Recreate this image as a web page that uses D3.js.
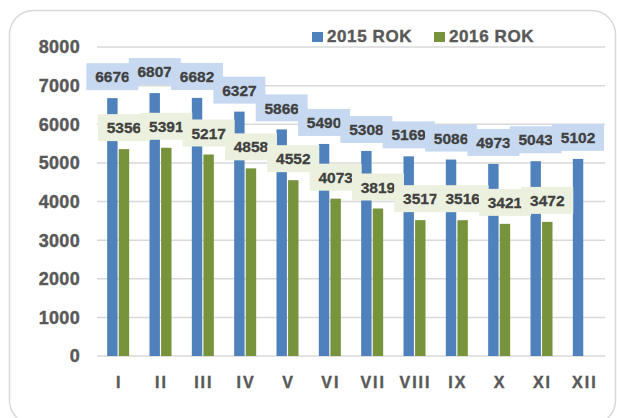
<!DOCTYPE html>
<html>
<head>
<meta charset="utf-8">
<script src="https://cdn.jsdelivr.net/npm/d3@7"></script>
<style>
  body { margin: 0; background: #fff; }
  text { font-family: "Liberation Sans", Arial, sans-serif; font-weight: bold; }
</style>
</head>
<body>
<script>
// data
let months = ["I", "II", "III", "IV", "V", "VI", "VII", "VIII", "IX", "X", "XI", "XII"];
let rok2015 = [6676, 6807, 6682, 6327, 5866, 5490, 5308, 5169, 5086, 4973, 5043, 5102];
let rok2016 = [5356, 5391, 5217, 4858, 4552, 4073, 3819, 3517, 3516, 3421, 3472, null];
let seriesNames = ["2015 ROK", "2016 ROK"];
let yTicks = [0, 1000, 2000, 3000, 4000, 5000, 6000, 7000, 8000];

let colors = ["#4f81bd", "#77933c"];
let boxColors = ["#c6d9f1", "#ebf1de"];

let svg = d3.select("body").append("svg")
  .attr("width", 617).attr("height", 418);

// outer rounded frame
svg.append("rect")
  .attr("x", 9.5).attr("y", 10.5)
  .attr("width", 606).attr("height", 414)
  .attr("rx", 24)
  .attr("fill", "none").attr("stroke", "#d9d9d9").attr("stroke-width", 1.5);

var y = d3.scaleLinear().domain([0, 8000]).range([356, 47]);
var x = d3.scaleBand().domain(months).range([97, 605]);
var xSub = d3.scaleBand().domain(seriesNames).range([-11, 11]).paddingInner(0.1);

// grid
svg.selectAll(".grid")
  .data(yTicks).enter().append("line")
  .attr("x1", 97).attr("x2", 605)
  .attr("y1", d => y(d)).attr("y2", d => y(d))
  .attr("stroke", "#d9d9d9").attr("stroke-width", 1.5);

// y labels
svg.selectAll(".ylab")
  .data(yTicks).enter().append("text")
  .attr("x", 80).attr("y", d => y(d))
  .attr("dy", "0.36em")
  .attr("text-anchor", "end")
  .attr("fill", "#595959")
  .attr("stroke", "#595959").attr("stroke-width", 0.4)
  .style("font-size", "18px")
  .style("letter-spacing", "0.3px")
  .text(d => d);

// x labels
svg.selectAll(".xlab")
  .data(months).enter().append("text")
  .attr("x", d => x(d) + x.bandwidth() / 2 + 1)
  .attr("y", 388)
  .attr("text-anchor", "middle")
  .attr("fill", "#595959")
  .attr("stroke", "#595959").attr("stroke-width", 0.4)
  .style("font-size", "16px")
  .style("letter-spacing", "2px")
  .text(d => d);

let series = [rok2015, rok2016];

// bars
series.forEach((vals, i) => {
  let pts = months.map((m, j) => ({ m: m, v: vals[j] })).filter(d => d.v != null);
  svg.selectAll(".bar" + i)
    .data(pts).enter().append("rect")
    .attr("x", d => x(d.m) + x.bandwidth() / 2 + xSub(seriesNames[i]))
    .attr("width", xSub.bandwidth())
    .attr("y", d => y(d.v))
    .attr("height", d => y(0) - y(d.v))
    .attr("fill", colors[i]);
});

// value labels with boxes
series.forEach((vals, i) => {
  let pts = months.map((m, j) => ({ m: m, v: vals[j] })).filter(d => d.v != null);
  let g = svg.selectAll(".lab" + i)
    .data(pts).enter().append("g")
    .attr("transform", d => {
      let cx = x(d.m) + x.bandwidth() / 2 + xSub(seriesNames[i]) + xSub.bandwidth() / 2;
      return "translate(" + cx + "," + (y(d.v) - 21.5) + ")";
    });
  g.append("rect")
    .attr("x", -26).attr("y", -13.5)
    .attr("width", 52).attr("height", 27)
    .attr("fill", boxColors[i]);
  g.append("text")
    .attr("text-anchor", "middle")
    .attr("dy", "0.36em")
    .attr("fill", "#404040")
    .attr("stroke", "#404040").attr("stroke-width", 0.3)
    .style("font-size", "15.5px")
    .text(d => d.v);
});

// legend
let legX = [312, 434];
seriesNames.forEach((name, i) => {
  svg.append("rect")
    .attr("x", legX[i]).attr("y", 32)
    .attr("width", 11).attr("height", 10)
    .attr("fill", colors[i]);
  svg.append("text")
    .attr("x", legX[i] + 15).attr("y", 42)
    .attr("fill", "#595959")
    .attr("stroke", "#595959").attr("stroke-width", 0.4)
    .style("font-size", "17px")
    .style("letter-spacing", "0.6px")
    .text(name);
});
</script>
</body>
</html>
